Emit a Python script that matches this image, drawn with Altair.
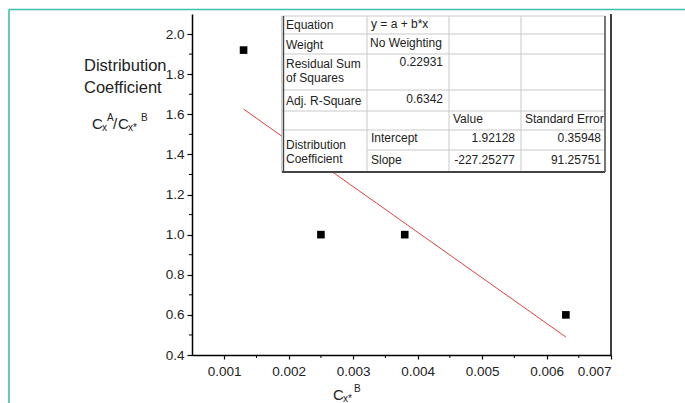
import altair as alt
import pandas as pd

# Measured distribution coefficients
conc_b = [0.0013, 0.0025, 0.0038, 0.0063]
dist_coef = [1.92, 1.00, 1.00, 0.60]

# Linear fit y = a + b*x (values reported in the fit table)
intercept = 1.92128
slope = -227.25277
intercept_se = 0.35948
slope_se = 91.25751
rss = 0.22931
adj_r2 = 0.6342

# Axis ticks
x_ticks = [0.001, 0.002, 0.003, 0.004, 0.005, 0.006, 0.007]
x_minor = [0.0015, 0.0025, 0.0035, 0.0045, 0.0055, 0.0065]
y_ticks = [0.4, 0.6, 0.8, 1.0, 1.2, 1.4, 1.6, 1.8, 2.0]
y_minor = [0.5, 0.7, 0.9, 1.1, 1.3, 1.5, 1.7, 1.9]

# ---- layout (pixels) ----
FONT = "Liberation Sans"
OX, OY = 192, 14          # plot origin inside the 685x403 page
W, H = 419, 341           # plot area
X_DOM = [0.0005, 0.007]
Y_DOM = [0.4, 2.1]

xs = alt.Scale(domain=X_DOM, nice=False, zero=False)
ys = alt.Scale(domain=Y_DOM, nice=False, zero=False)

pts = pd.DataFrame({"x": conc_b, "y": dist_coef})
fit_x = [min(conc_b), max(conc_b)]
fit = pd.DataFrame({"x": fit_x, "y": [intercept + slope * v for v in fit_x]})

fit_line = alt.Chart(fit).mark_line(color="#e2403c", strokeWidth=1).encode(
    x=alt.X("x:Q", scale=xs, axis=None),
    y=alt.Y("y:Q", scale=ys, axis=None),
)

points = alt.Chart(pts).mark_square(size=58, color="black", opacity=1).encode(
    x=alt.X("x:Q", scale=xs, axis=alt.Axis(
        values=x_ticks, format=".3f", title=None, grid=False,
        tickSize=4, labelPadding=5, labelFontSize=13.5, labelColor="#222",
        labelFont=FONT, domainColor="black", domainWidth=1.5,
        tickColor="black", tickWidth=1.2)),
    y=alt.Y("y:Q", scale=ys, axis=alt.Axis(
        values=y_ticks, format=".1f", title=None, grid=False,
        tickSize=5, labelPadding=3, labelFontSize=13.5, labelColor="#222",
        labelFont=FONT, domainColor="black", domainWidth=1.5,
        tickColor="black", tickWidth=1.2)),
)

x_minor_ticks = alt.Chart(pd.DataFrame({"x": x_minor})).mark_rule(
    color="black", strokeWidth=1).encode(
    x=alt.X("x:Q", scale=xs, axis=None),
    y=alt.value(H), y2=alt.value(H + 3))

y_minor_ticks = alt.Chart(pd.DataFrame({"y": y_minor})).mark_rule(
    color="black", strokeWidth=1).encode(
    y=alt.Y("y:Q", scale=ys, axis=None),
    x=alt.value(-3), x2=alt.value(0))

right_edge = alt.Chart(pd.DataFrame({"a": [0]})).mark_rule(
    color="black", strokeWidth=1.5).encode(
    x=alt.value(W), y=alt.value(0), y2=alt.value(H))

# teal page frame
frame_top = alt.Chart(pd.DataFrame({"a": [0]})).mark_rule(
    color="#3fbfa6", strokeWidth=1.6).encode(
    x=alt.value(9 - OX), x2=alt.value(685 - OX), y=alt.value(9.5 - OY))
frame_left = alt.Chart(pd.DataFrame({"a": [0]})).mark_rule(
    color="#3fbfa6", strokeWidth=1.6).encode(
    x=alt.value(9 - OX), y=alt.value(9.5 - OY), y2=alt.value(403 - OY))

# ---- fit table ----
c0, c1, c2, c3, c4 = 282, 367, 449, 521, 605
r = [16, 34, 54, 90, 111, 130, 150, 172]

tbl_bg = alt.Chart(pd.DataFrame({"a": [0]})).mark_rect(color="white").encode(
    x=alt.value(c0 - OX), x2=alt.value(c4 - OX),
    y=alt.value(r[0] - OY), y2=alt.value(r[-1] - OY))

h_lines = [(c0, c4, y) for y in r[:6]] + [(c1, c4, r[6])]
v_lines = [(x, r[0], r[-1]) for x in (c1, c2, c3)]
grid_df = pd.DataFrame(
    [{"x": a - OX, "x2": b - OX, "y": y - OY, "y2": y - OY} for a, b, y in h_lines]
    + [{"x": x - OX, "x2": x - OX, "y": a - OY, "y2": b - OY} for x, a, b in v_lines])
tbl_grid = alt.Chart(grid_df).mark_rule(color="#c9c9c9", strokeWidth=1).encode(
    x=alt.X("x:Q", scale=None), x2="x2:Q",
    y=alt.Y("y:Q", scale=None), y2="y2:Q")

border_df = pd.DataFrame([
    {"x": c0 - OX, "x2": c0 - OX, "y": r[0] - OY, "y2": r[-1] - OY, "w": 1.0, "c": "#9a9a9a"},
    {"x": c0 + 1.6 - OX, "x2": c0 + 1.6 - OX, "y": r[0] - OY, "y2": r[-1] - OY, "w": 1.2, "c": "#444444"},
    {"x": c0 - OX, "x2": c4 - OX, "y": r[-1] - OY, "y2": r[-1] - OY, "w": 2.0, "c": "#444444"},
    {"x": c4 - OX, "x2": c4 - OX, "y": r[0] - OY, "y2": r[-1] - OY, "w": 1.6, "c": "#555555"},
])
tbl_border = alt.Chart(border_df).mark_rule().encode(
    x=alt.X("x:Q", scale=None), x2="x2:Q",
    y=alt.Y("y:Q", scale=None), y2="y2:Q",
    strokeWidth=alt.StrokeWidth("w:Q", scale=None, legend=None),
    color=alt.Color("c:N", scale=None, legend=None))

left_cells = [
    ("Equation", 286, 25), ("y = a + b*x", 371, 24),
    ("Weight", 286, 45), ("No Weighting", 370, 43),
    ("Residual Sum", 286, 64), ("of Squares", 286, 78),
    ("Adj. R-Square", 286, 101),
    ("Value", 453, 119), ("Standard Error", 525, 119),
    ("Distribution", 286, 145), ("Coefficient", 286, 159),
    ("Intercept", 371, 138), ("Slope", 371, 160),
]
right_cells = [
    (f"{rss:.5f}", 443, 62), (f"{adj_r2:.4f}", 443, 99),
    (f"{intercept:.5f}", 515, 138), (f"{intercept_se:.5f}", 601, 138),
    (f"{slope:.5f}", 515, 160), (f"{slope_se:.5f}", 601, 160),
]


def text_layer(cells, align):
    df = pd.DataFrame([{"t": t, "x": x - OX, "y": y - OY} for t, x, y in cells])
    return alt.Chart(df).mark_text(
        align=align, baseline="middle", font=FONT, fontSize=12, color="#222"
    ).encode(x=alt.X("x:Q", scale=None), y=alt.Y("y:Q", scale=None), text="t:N")


tbl_left = text_layer(left_cells, "left")
tbl_right = text_layer(right_cells, "right")

# ---- axis titles with sub/superscripts ----
title_parts = [
    ("Distribution", 84, 66, 16.5),
    ("Coefficient", 84, 88, 16.5),
    ("C", 92, 124, 15), ("x", 102, 128, 10), ("A", 107, 118, 10),
    ("/", 113, 124, 15),
    ("C", 118, 124, 15), ("x*", 128, 128, 10), ("B", 141, 118, 10),
    ("C", 333, 395, 15), ("x*", 343, 399, 10), ("B", 354, 389, 10),
]
titles = alt.Chart(pd.DataFrame(
    [{"t": t, "x": x - OX, "y": y - OY, "s": s} for t, x, y, s in title_parts]
)).mark_text(align="left", baseline="middle", font=FONT, color="#222").encode(
    x=alt.X("x:Q", scale=None), y=alt.Y("y:Q", scale=None), text="t:N",
    size=alt.Size("s:Q", scale=None, legend=None))

chart = alt.layer(
    frame_top, frame_left, fit_line, points, x_minor_ticks, y_minor_ticks,
    right_edge, tbl_bg, tbl_grid, tbl_border, tbl_left, tbl_right, titles,
).resolve_scale(x="independent", y="independent").properties(
    width=W, height=H,
    autosize=alt.AutoSizeParams(type="none"),
    padding={"left": OX, "top": OY, "right": 685 - OX - W, "bottom": 403 - OY - H},
    background="white",
).configure_view(stroke=None)

chart.save("out.html", embed_options={"renderer": "svg", "actions": False})
